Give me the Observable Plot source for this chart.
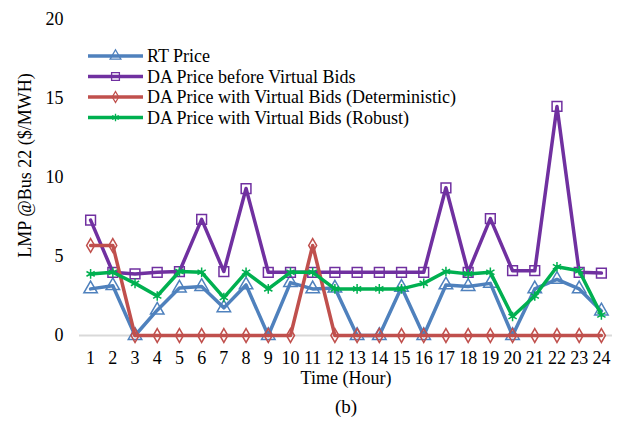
<!DOCTYPE html>
<html>
<head>
<meta charset="utf-8">
<script src="https://cdn.jsdelivr.net/npm/d3@7"></script>
<script src="https://cdn.jsdelivr.net/npm/@observablehq/plot@0.6"></script>
<style>
  body { margin: 0; background: #fff; font-family: "Liberation Serif", "Times New Roman", serif; }
  #wrap { position: relative; width: 625px; height: 427px; }
  #wrap > svg { position: absolute; left: 0; top: 0; }
</style>
</head>
<body>
<div id="wrap"></div>
<script>
const hours = d3.range(1, 25);
const seriesNames = [
  "RT Price",
  "DA Price before Virtual Bids",
  "DA Price with Virtual Bids (Deterministic)",
  "DA Price with Virtual Bids (Robust)"
];
const rtPrice = [2.95, 3.15, 0, 1.6, 3.0, 3.1, 1.75, 3.2, 0, 3.35, 2.95, 3.0, 0, 0, 3.05, 0, 3.2, 3.1, 3.3, 0, 2.95, 3.55, 2.95, 1.55];
const daBefore = [7.3, 4.0, 3.9, 4.0, 4.05, 7.35, 4.05, 9.3, 4.0, 4.0, 4.0, 4.0, 4.0, 4.0, 4.0, 4.0, 9.35, 4.0, 7.4, 4.1, 4.1, 14.5, 4.0, 3.95];
const daDet = [5.7, 5.7, 0, 0, 0, 0, 0, 0, 0, 0, 5.7, 0, 0, 0, 0, 0, 0, 0, 0, 0, 0, 0, 0, 0];
const daRobust = [3.9, 4.0, 3.3, 2.5, 4.05, 4.0, 2.4, 4.0, 2.95, 4.0, 4.0, 2.95, 2.95, 2.95, 2.95, 3.3, 4.05, 3.9, 4.0, 1.2, 2.5, 4.35, 4.1, 1.3];
const yTicks = [0, 5, 10, 15, 20];

const colors = ["#4F81BD", "#7030A0", "#C0504D", "#00B050"];
const symbols = ["triangle", "square", "diamond", "asterisk"];
const radii = [5, 5.5, 4.2, 4.5];
const allValues = [rtPrice, daBefore, daDet, daRobust];
const FONT = "Liberation Serif, Times New Roman, serif";

const marks = [
  Plot.ruleY([0], {x1: 0.5, x2: 24.5, stroke: "#d9d9d9", strokeWidth: 2})
];
allValues.forEach((vals, i) => {
  const data = hours.map((h, j) => ({hour: h, value: vals[j]}));
  marks.push(Plot.line(data, {x: "hour", y: "value", stroke: colors[i], strokeWidth: 3.5}));
  marks.push(Plot.dot(data, {x: "hour", y: "value", symbol: () => symbols[i], r: radii[i], stroke: colors[i], strokeWidth: 1.5, fill: "none"}));
});

const chart = Plot.plot({
  width: 625,
  height: 427,
  marginLeft: 79,
  marginRight: 13,
  marginTop: 19,
  marginBottom: 92,
  style: {fontFamily: FONT, fontSize: "18px", color: "#000", background: "#fff", overflow: "visible"},
  x: {domain: [0.5, 24.5], ticks: hours, tickSize: 0, tickPadding: 16, tickFormat: d => String(d), label: null},
  y: {domain: [0, 20], ticks: yTicks, tickSize: 0, tickPadding: 16, label: null},
  marks: [
    ...marks,
    Plot.text(["Time (Hour)"], {frameAnchor: "bottom", dy: 48, fontSize: 18, fill: "#000"}),
    Plot.text(["(b)"], {frameAnchor: "bottom", dy: 77, fontSize: 19, fill: "#000"}),
    Plot.text(["LMP @Bus 22 ($/MWH)"], {frameAnchor: "left", textAnchor: "middle", dx: -54, dy: -12, rotate: -90, fontSize: 18, fill: "#000"})
  ]
});

const wrap = document.getElementById("wrap");
wrap.appendChild(chart);

// Legend
const leg = d3.create("svg").attr("width", 625).attr("height", 140);
const rowY = [56, 76.5, 97, 117.5];
seriesNames.forEach((name, i) => {
  const g = leg.append("g").attr("transform", `translate(0,${rowY[i]})`);
  g.append("line").attr("x1", 88).attr("x2", 143).attr("y1", 0).attr("y2", 0)
    .attr("stroke", colors[i]).attr("stroke-width", 3.5);
  const sym = {triangle: d3.symbolTriangle, square: d3.symbolSquare, diamond: d3.symbolDiamond, asterisk: d3.symbolAsterisk}[symbols[i]];
  g.append("path").attr("transform", "translate(115.5,0)")
    .attr("d", d3.symbol(sym, Math.PI * (radii[i] * 0.8) ** 2)())
    .attr("fill", "none").attr("stroke", colors[i]).attr("stroke-width", 1.3);
  g.append("text").attr("x", 147).attr("y", 0).attr("dy", "0.35em")
    .attr("font-size", 18).attr("font-family", FONT)
    .attr("fill", "#000").text(name);
});
wrap.appendChild(leg.node());
</script>
</body>
</html>
